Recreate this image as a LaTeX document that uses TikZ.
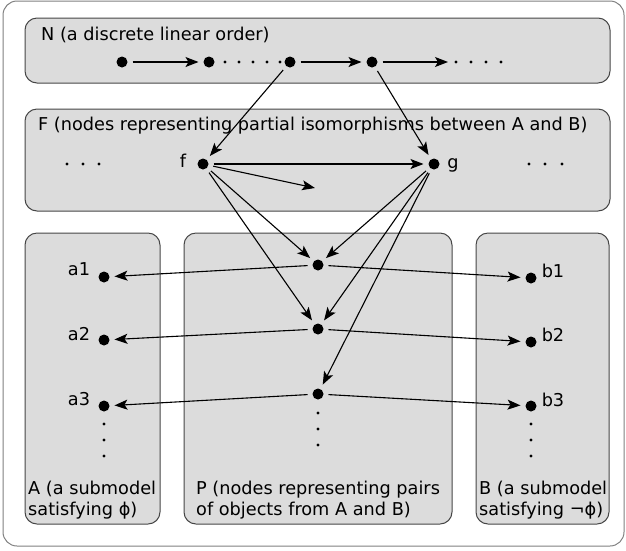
\documentclass[tikz,border=0pt]{standalone}
\usepackage{fontspec}
\setmainfont{DejaVu Sans}
\usetikzlibrary{arrows.meta}
\definecolor{boxfill}{RGB}{220,220,220}
\definecolor{boxline}{RGB}{70,70,70}

\begin{document}
\begin{tikzpicture}[x=1pt,y=-1pt,
    font=\fontsize{17.7}{21}\selectfont,
    region/.style={draw=boxline, fill=boxfill, rounded corners=12pt, line width=1pt, inner sep=0pt},
    elem/.style={circle, fill=black, inner sep=0pt, minimum size=11pt, outer sep=5pt},
    link/.style={-{Stealth[length=13pt,width=10pt,inset=3pt]}, line width=1.1pt},
    tag/.style={inner sep=0pt, anchor=base west},
    lbl/.style={inner sep=0pt, anchor=base}]
    \useasboundingbox (0,0) rectangle (626,550);
    \node[draw=gray, rounded corners=14pt, line width=1pt, inner sep=0pt,
          minimum width=621pt, minimum height=545pt] (frame) at (313.5,273.5) {};

    % the five regions
    \node[region, minimum width=585pt, minimum height=65pt] (Nbox) at (317.5,50.5) {};
    \node[region, minimum width=585pt, minimum height=102pt] (Fbox) at (317.5,160) {};
    \node[region, minimum width=135pt, minimum height=291pt] (Abox) at (92.5,378.5) {};
    \node[region, minimum width=268pt, minimum height=291pt] (Pbox) at (318,378.5) {};
    \node[region, minimum width=133pt, minimum height=291pt] (Bbox) at (542.5,378.5) {};

    \node[tag] (Ntitle) at (41,40) {N (a discrete linear order)};
    \node[tag] (Ftitle) at (38,130) {F (nodes representing partial isomorphisms between A and B)};
    \node[tag] (Atitle) at (28,494) {A (a submodel};
    \node[tag] (Atitle2) at (28,515) {satisfying ϕ)};
    \node[tag] (Ptitle) at (196,494) {P (nodes representing pairs};
    \node[tag] (Ptitle2) at (196,515) {of objects from A and B)};
    \node[tag] (Btitle) at (479,494) {B (a submodel};
    \node[tag] (Btitle2) at (479,515) {satisfying ¬ϕ)};

    % N
    \node[elem] (n1) at (122,62) {};
    \node[elem] (n2) at (209,62) {};
    \node[elem] (n3) at (290,62) {};
    \node[elem] (n4) at (372,62) {};
    \coordinate (nend) at (448,62);
    \foreach \x in {225,239,253,267,280,456,471,486,501}
      \fill (\x,62) circle (1.6pt);

    % F
    \node[elem] (f) at (203,164) {};
    \node[elem] (g) at (434,164) {};
    \node[lbl] (flbl) at (183,167) {f};
    \node[lbl] (glbl) at (453,168) {g};
    \coordinate (fside) at (315,188);
    \foreach \x in {67,83,99,529,545,562}
      \fill (\x,164) circle (1.6pt);

    % A, P, B
    \node[elem] (a1) at (104,277) {};
    \node[elem] (a2) at (104,340) {};
    \node[elem] (a3) at (104,406) {};
    \node[elem] (p1) at (318,265) {};
    \node[elem] (p2) at (318,329) {};
    \node[elem] (p3) at (318,394) {};
    \node[elem] (b1) at (531,278) {};
    \node[elem] (b2) at (531,342) {};
    \node[elem] (b3) at (531,406) {};
    \node[lbl] (a1lbl) at (79,275) {a1};
    \node[lbl] (a2lbl) at (79,340) {a2};
    \node[lbl] (a3lbl) at (79,405) {a3};
    \node[lbl] (b1lbl) at (553,277) {b1};
    \node[lbl] (b2lbl) at (553,341) {b2};
    \node[lbl] (b3lbl) at (553,406) {b3};
    \foreach \y in {424,440,456} {
      \fill (104,\y) circle (1.6pt);
      \fill (531,\y) circle (1.6pt);
    }
    \foreach \y in {413,429,445}
      \fill (318,\y) circle (1.6pt);

    % connections
    \draw[link] (n1) -- (n2);
    \draw[link] (n3) -- (n4);
    \draw[link] (n4) -- (nend);
    \draw[link] (n3) -- (f);
    \draw[link] (n4) -- (g);
    \draw[link] (f) -- (g);
    \draw[link] (f) -- (fside);
    \foreach \p in {p1,p2}
      \draw[link] (f) -- (\p);
    \foreach \p in {p1,p2,p3}
      \draw[link] (g) -- (\p);
    \foreach \i in {1,2,3} {
      \draw[link] (p\i) -- (a\i);
      \draw[link] (p\i) -- (b\i);
    }
\end{tikzpicture}
\end{document}
